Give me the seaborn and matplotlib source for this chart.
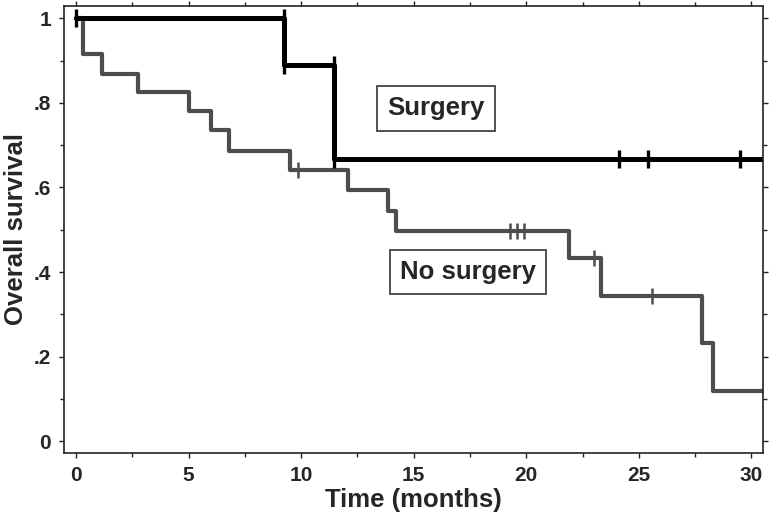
import numpy as np
import pandas as pd
import matplotlib
matplotlib.use("Agg")
import matplotlib.pyplot as plt
from matplotlib.ticker import MultipleLocator
import seaborn as sns

# Kaplan-Meier step curves (time in months, survival proportion)
surg_times = [0, 9.25, 11.45, 11.45, 30.5]
surg_surv = [1.0, 0.889, 0.778, 0.667, 0.667]

nosurg_times = [0, 0.3, 1.15, 2.75, 5.0, 6.0, 6.8, 9.5, 12.1, 13.85, 14.2,
                21.9, 23.3, 27.8, 28.3, 30.5]
nosurg_surv = [1.0, 0.917, 0.869, 0.825, 0.78, 0.736, 0.687, 0.642, 0.595,
               0.545, 0.498, 0.433, 0.343, 0.232, 0.118, 0.118]

# censoring marks
surg_cens_t = [0, 9.25, 9.25, 11.45, 11.45, 11.45, 24.1, 25.4, 29.5]
surg_cens_s = [1.0, 1.0, 0.889, 0.889, 0.778, 0.667, 0.667, 0.667, 0.667]
nosurg_cens_t = [9.85, 19.26, 19.57, 19.9, 23.0, 25.6]
nosurg_cens_s = [0.642, 0.498, 0.498, 0.498, 0.433, 0.343]

x_ticks = [0, 5, 10, 15, 20, 25, 30]
y_ticks = [0, 0.2, 0.4, 0.6, 0.8, 1.0]
y_tick_labels = ["0", ".2", ".4", ".6", ".8", "1"]

sns.set_style("white")
plt.rcParams["font.family"] = ["Liberation Sans", "DejaVu Sans"]
plt.rcParams["font.weight"] = "bold"

fig = plt.figure(figsize=(7.72, 5.23), dpi=100)
ax = fig.add_axes([0.083, 0.134, 0.905, 0.855])

gray = "#4d4d4d"
black = "#000000"

nosurg_df = pd.DataFrame({"t": nosurg_times, "s": nosurg_surv})
surg_df = pd.DataFrame({"t": surg_times, "s": surg_surv})

sns.lineplot(data=nosurg_df, x="t", y="s", ax=ax, color=gray, linewidth=3.0,
             drawstyle="steps-post", estimator=None, sort=False)
sns.scatterplot(x=nosurg_cens_t, y=nosurg_cens_s, ax=ax, marker="|", s=130,
                color=gray, linewidth=1.8, zorder=3)

sns.lineplot(data=surg_df, x="t", y="s", ax=ax, color=black, linewidth=3.6,
             drawstyle="steps-post", estimator=None, sort=False)
sns.scatterplot(x=surg_cens_t, y=surg_cens_s, ax=ax, marker="|", s=170,
                color=black, linewidth=2.4, zorder=4)

box = dict(boxstyle="square,pad=0.4", facecolor="white", edgecolor="#333333",
           linewidth=1.2)
ax.text(16.0, 0.787, "Surgery", ha="center", va="center", fontsize=18.5,
        fontweight="bold", bbox=box)
ax.text(17.4, 0.40, "No surgery", ha="center", va="center", fontsize=18.5,
        fontweight="bold", bbox=box)

ax.set_xlim(-0.53, 30.5)
ax.set_ylim(-0.028, 1.03)

ax.set_xticks(x_ticks)
ax.set_xticklabels([str(v) for v in x_ticks], fontsize=15, fontweight="bold")
ax.xaxis.set_minor_locator(MultipleLocator(2.5))
ax.set_yticks(y_ticks)
ax.set_yticklabels(y_tick_labels, fontsize=15, fontweight="bold")
ax.yaxis.set_minor_locator(MultipleLocator(0.1))

ax.tick_params(which="both", direction="out", top=True, right=True,
               bottom=True, left=True, labeltop=False, labelright=False,
               color="#222222", width=1.0)
ax.tick_params(which="major", length=3.5, pad=6)
ax.tick_params(which="minor", length=3)

for sp in ax.spines.values():
    sp.set_color("#222222")
    sp.set_linewidth(1.2)

ax.set_xlabel("Time (months)", fontsize=18.5, fontweight="bold", labelpad=2)
ax.set_ylabel("Overall survival", fontsize=18.5, fontweight="bold", labelpad=4)

fig.savefig("out.png", dpi=100)
